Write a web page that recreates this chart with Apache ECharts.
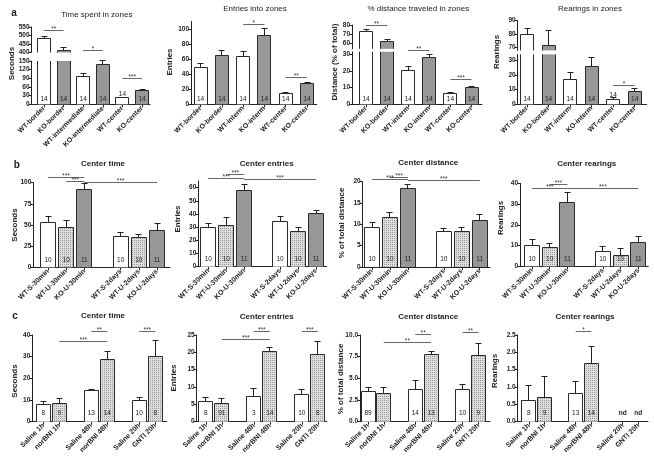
<!DOCTYPE html>
<html><head><meta charset="utf-8">
<script src="https://cdn.jsdelivr.net/npm/echarts@6/dist/echarts.min.js"></script>
<style>html,body{margin:0;padding:0;background:#fff;}#c{width:654px;height:457px;}</style>
</head><body><div id="c"></div>
<script>
// ================= DATA =================
// Row a : zones
const zoneCatsTime = ['WT-border','KO-border','WT-intermediate','KO-intermediate','WT-center','KO-center'];
const zoneCats = ['WT-border','KO-border','WT-interm','KO-interm','WT-center','KO-center'];
const zoneN = ['14','14','14','14','14','14'];

const zoneTimeMean = [480, 410, 95, 138, 22, 47];
const zoneTimeSem  = [15, 20, 13, 14, 2.5, 5];
const zoneTimeSig  = [[0,1,532,'**'],[2,3,185,'*'],[4,5,88,'***']];

const zoneEntriesMean = [49, 65, 64, 91, 14.5, 27];
const zoneEntriesSem  = [5, 7, 6, 10, 1.5, 2.5];
const zoneEntriesSig  = [[2,3,106.6,'*'],[4,5,35.9,'**']];

const zoneDistMean = [73, 62, 20.5, 28, 6.5, 10];
const zoneDistSem  = [2, 2, 2, 2, 0.8, 0.4];
const zoneDistSig  = [[0,1,80,'**'],[2,3,32.2,'**'],[4,5,14.6,'***']];

const zoneRearMean = [79.5, 72, 17, 25.5, 3.5, 8.5];
const zoneRearSem  = [5, 11, 4.5, 6.5, 1, 2];
const zoneRearSig  = [[4,5,12.5,'*']];

// Row b : stress
const stressCats = ['WT-S-30min','WT-U-30min','KO-U-30min','WT-S-2days','WT-U-2days','KO-U-2days'];
const stressN = ['10','10','11','10','10','11'];

const sTimeMean = [53.5, 47.5, 91.5, 36, 35.5, 43];
const sTimeSem  = [7, 7.5, 7, 5.5, 3, 8.5];
const sTimeSig  = [[0,2,105.9,'***'],[1,2,101.2,'***'],[2,5,100.5,'***']];

const sEntriesMean = [30, 31.5, 57.5, 34, 27, 40];
const sEntriesSem  = [3, 5.5, 5, 4, 3, 3];
const sEntriesSig  = [[0,2,66.7,'***'],[1,2,69.8,'***'],[2,5,65.9,'***']];

const sDistMean = [9.2, 11.5, 18.3, 8.3, 8.3, 10.8];
const sDistSem  = [1.2, 1.3, 1.1, 0.7, 1.0, 1.4];
const sDistSig  = [[0,2,20.4,'***'],[1,2,21.1,'***'],[2,5,20.3,'***']];

const sRearMean = [10, 9.2, 30.8, 7, 5.3, 11.5];
const sRearSem  = [3, 1.8, 5, 2.5, 3.2, 2.8];
const sRearSig  = [[0,2,37.3,'***'],[1,2,39.3,'***'],[2,5,37.3,'***']];

// Row c : drugs
const drugCats = ['Saline 1h','norBNI 1h','Saline 48h','norBNI 48h','Saline 20h','GNTI 20h'];

const dTimeMean = [7.8, 8.2, 14.3, 28.5, 9.7, 30];
const dTimeSem  = [1.7, 2.3, 0.7, 4, 1.6, 7.3];
const dTimeN    = ['8','9','13','14','10','8'];
const dTimeSig  = [[2,3,41.5,'**'],[1,3,36.9,'***'],[4,5,41.5,'***']];

const dEntriesMean = [5.7, 5.3, 7.4, 20.2, 7.7, 19.3];
const dEntriesSem  = [1.4, 1.5, 2.3, 1.3, 1.5, 3.7];
const dEntriesN    = ['8','91','3','14','10','8'];
const dEntriesSig  = [[2,3,25.9,'***'],[1,3,23.7,'***'],[4,5,25.9,'***']];

const dDistMean = [3.5, 3.3, 3.75, 7.7, 3.75, 7.6];
const dDistSem  = [0.5, 0.6, 1.05, 0.4, 0.55, 1.45];
const dDistN    = ['89','','14','13','10','9'];
const dDistSig  = [[2,3,10.1,'**'],[1,3,9.1,'**'],[4,5,10.3,'**']];

const dRearMean = [0.62, 0.7, 0.82, 1.67, null, null];
const dRearSem  = [0.43, 0.6, 0.33, 0.5, null, null];
const dRearN    = ['8','9','13','14','nd','nd'];
const dRearSig  = [[2,3,2.59,'*']];

// ================= STYLE / LAYOUT =================
const FONT = '"Liberation Sans", Arial, Helvetica, sans-serif';
const INK = '#222';
const EDGE = '#2a2a2a';
function styleFor(kind) {
  if (kind === 'gray') return {color:'#979797', borderWidth:0};
  if (kind === 'stipple') return {color:'#dedede', borderWidth:0, decal:{symbol:'rect', symbolSize:1, dashArrayX:[1,1], dashArrayY:[1,1], color:'#9a9a9a'}};
  return {color:'#ffffff', borderWidth:0};
}
const zoneFill = c => c.startsWith('KO') ? 'gray' : 'white';
const stressFill = c => c.startsWith('KO') ? 'gray' : (c.startsWith('WT-U') ? 'stipple' : 'white');
const drugFill = c => c.startsWith('Saline') ? 'white' : 'stipple';
const fmt1 = v => v.toFixed(1);

const panels = [
  {cats:zoneCatsTime, mean:zoneTimeMean, sem:zoneTimeSem, n:zoneN, sig:zoneTimeSig, fill:zoneFill,
   axisX:31.5, axisEnd:150, c0:44, c1:142, group:0, barW:13, nOff:5.5,
   segs:[{min:400,max:550,interval:50,top:27,bottom:52.5},{min:0,max:150,interval:30,top:61,bottom:104.3}]},
  {cats:zoneCats, mean:zoneEntriesMean, sem:zoneEntriesSem, n:zoneN, sig:zoneEntriesSig, fill:zoneFill,
   axisX:191, axisEnd:316.7, c0:200.5, c1:307, group:0, barW:13, nOff:5.5,
   segs:[{min:0,max:110,ticks:[0,20,40,60,80,100],top:21.5,bottom:104.3}]},
  {cats:zoneCats, mean:zoneDistMean, sem:zoneDistSem, n:zoneN, sig:zoneDistSig, fill:zoneFill,
   axisX:352, axisEnd:482, c0:366, c1:471.5, group:0, barW:13, nOff:5.5,
   segs:[{min:54,max:80,ticks:[60,70,80],top:25,bottom:48.8},{min:0,max:31.5,ticks:[0,10,20,30],top:51.8,bottom:104.3}]},
  {cats:zoneCats, mean:zoneRearMean, sem:zoneRearSem, n:zoneN, sig:zoneRearSig, fill:zoneFill,
   axisX:517.7, axisEnd:646.7, c0:527, c1:634.7, group:0, barW:13, nOff:5.5,
   segs:[{min:68,max:90,ticks:[70,80,90],top:20.7,bottom:50.4},{min:0,max:34,ticks:[0,10,20,30],top:54.4,bottom:104.3}]},

  {cats:stressCats, mean:sTimeMean, sem:sTimeSem, n:stressN, sig:sTimeSig, fill:stressFill,
   axisX:33.3, axisEnd:170, c0:48, c1:157, group:3, barW:15, nOff:7.5,
   segs:[{min:0,max:100,interval:25,top:182.7,bottom:267.3}]},
  {cats:stressCats, mean:sEntriesMean, sem:sEntriesSem, n:stressN, sig:sEntriesSig, fill:stressFill,
   axisX:198.3, axisEnd:326.7, c0:208.3, c1:316, group:3, barW:15, nOff:7.5,
   segs:[{min:0,max:65,ticks:[0,10,20,30,40,50,60],top:181,bottom:266.7}]},
  {cats:stressCats, mean:sDistMean, sem:sDistSem, n:stressN, sig:sDistSig, fill:stressFill,
   axisX:362.7, axisEnd:490, c0:372, c1:479.7, group:3, barW:15, nOff:7.5,
   segs:[{min:0,max:20,interval:5,top:181.7,bottom:267}]},
  {cats:stressCats, mean:sRearMean, sem:sRearSem, n:stressN, sig:sRearSig, fill:stressFill,
   axisX:520, axisEnd:648.3, c0:532, c1:638.3, group:3, barW:15, nOff:7.5,
   segs:[{min:0,max:40,interval:10,top:183.3,bottom:266.3}]},

  {cats:drugCats, mean:dTimeMean, sem:dTimeSem, n:dTimeN, sig:dTimeSig, fill:drugFill,
   axisX:32.3, axisEnd:166.7, c0:43.3, c1:155.2, group:2, barW:14, nOff:8,
   segs:[{min:0,max:40,interval:10,top:335,bottom:421.7}]},
  {cats:drugCats, mean:dEntriesMean, sem:dEntriesSem, n:dEntriesN, sig:dEntriesSig, fill:drugFill,
   axisX:196.7, axisEnd:326.7, c0:205.8, c1:317.8, group:2, barW:14, nOff:8,
   segs:[{min:0,max:25,interval:5,top:335,bottom:421.7}]},
  {cats:drugCats, mean:dDistMean, sem:dDistSem, n:dDistN, sig:dDistSig, fill:drugFill, fmt:fmt1,
   axisX:360, axisEnd:490, c0:368, c1:478.3, group:2, barW:14, nOff:8,
   segs:[{min:0,max:10,interval:2.5,top:335,bottom:421.7}]},
  {cats:drugCats, mean:dRearMean, sem:dRearSem, n:dRearN, sig:dRearSig, fill:drugFill, fmt:fmt1,
   axisX:517.7, axisEnd:648, c0:528.8, c1:638.3, group:2, barW:14, nOff:8,
   segs:[{min:0,max:2.5,interval:0.5,top:335,bottom:421.7}]}
];

const texts = [
  // [text, x, y, bold, size, rotated]
  ['a', 14, 13.5, true, 10, false], ['b', 16.7, 165.7, true, 10, false], ['c', 15, 316.7, true, 10, false],
  ['Time spent in zones', 96.8, 15, false, 8, false],
  ['Entries into zones', 255, 8.3, false, 8, false],
  ['% distance traveled in zones', 418.3, 8.3, false, 8, false],
  ['Rearings in zones', 590, 8.3, false, 8, false],
  ['Center time', 103, 163.3, true, 8, false], ['Center entries', 266.7, 163.3, true, 8, false],
  ['Center distance', 428.3, 162.7, true, 8, false], ['Center rearings', 586.7, 164, true, 8, false],
  ['Center time', 103, 316, true, 8, false], ['Center entries', 266.7, 316.7, true, 8, false],
  ['Center distance', 428.3, 316.7, true, 8, false], ['Center rearings', 585, 316.7, true, 8, false],
  ['Seconds', 11.7, 63.5, true, 8, true], ['Entries', 170, 62, true, 8, true],
  ['Distance (% of total)', 335, 62, true, 8, true], ['Rearings', 497, 52, true, 8, true],
  ['Seconds', 15, 225, true, 8, true], ['Entries', 177.3, 219, true, 8, true],
  ['% of total distance', 341.7, 223, true, 8, true], ['Rearings', 500.7, 218, true, 8, true],
  ['Seconds', 15, 381, true, 8, true], ['Entries', 173.3, 378, true, 8, true],
  ['% of total distance', 341, 379, true, 8, true], ['Rearings', 495, 371, true, 8, true]
];

// ================= BUILD =================
const grids = [], xAxis = [], yAxis = [], series = [];
const isGap = v => String(v).startsWith('__gap');
const crisp = x => Math.round(x - 0.5) + 0.5;

panels.forEach(p => {
  const slots = [], slotOf = [];
  p.cats.forEach((c, i) => {
    if (p.group && i > 0 && i % p.group === 0) slots.push('__gap' + i);
    slotOf.push(slots.length); slots.push(c);
  });
  const band = (p.c1 - p.c0) / (slots.length - 1);
  const left = p.c0 - band / 2, width = band * slots.length;
  const segOfValue = v => { for (let k = 0; k < p.segs.length; k++) if (v >= p.segs[k].min) return k; return p.segs.length - 1; };
  const gridIdx = [];

  p.segs.forEach((s, k) => {
    const isBottom = k === p.segs.length - 1;
    const gi = grids.length; gridIdx.push(gi);
    grids.push({left: left, top: s.top, width: width, height: s.bottom - s.top, containLabel: false, outerBoundsMode: 'none'});
    xAxis.push({gridIndex: gi, type: 'category', data: slots, boundaryGap: true,
      axisLine: {show: false, onZero: false},
      axisTick: {show: isBottom, alignWithLabel: true, length: 3, interval: (i, v) => !isGap(v), lineStyle: {color: INK, width: 1}},
      axisLabel: {show: isBottom, rotate: 45, interval: (i, v) => !isGap(v), fontSize: 7, fontWeight: 'bold', color: INK, margin: 3, fontFamily: FONT,
        formatter: v => isGap(v) ? '' : v},
      splitLine: {show: false}});
    const ya = {gridIndex: gi, type: 'value', min: s.min, max: s.max, offset: left - p.axisX,
      axisLine: {show: true, lineStyle: {color: INK, width: 1}},
      axisTick: {show: true, length: 3, lineStyle: {color: INK, width: 1}},
      axisLabel: {fontSize: 6.5, fontWeight: 'bold', color: INK, margin: 2, fontFamily: FONT},
      splitLine: {show: false}};
    if (p.fmt) ya.axisLabel.formatter = p.fmt;
    if (s.ticks) { ya.axisTick.customValues = s.ticks; ya.axisLabel.customValues = s.ticks; }
    else ya.interval = s.interval;
    yAxis.push(ya);

    // bars (fill)
    const barData = slots.map(() => '-');
    const outline = [];
    p.cats.forEach((c, i) => {
      const v = p.mean[i];
      if (v == null) return;
      if (!isBottom && v < s.min) return;
      barData[slotOf[i]] = {value: v, itemStyle: styleFor(p.fill(c))};
      outline.push([slotOf[i], v]);
    });
    series.push({type: 'bar', xAxisIndex: gi, yAxisIndex: gi, data: barData, barWidth: p.barW, clip: true, silent: true, z: 2});

    // bar outlines (open at an axis break)
    series.push({type: 'custom', xAxisIndex: gi, yAxisIndex: gi, data: outline, clip: false, silent: true, z: 3,
      renderItem: (params, api) => {
        const x = api.value(0), v = api.value(1);
        const t = api.coord([x, Math.min(v, s.max)]), b = api.coord([x, s.min]);
        const hw = p.barW / 2;
        const xl = crisp(t[0] - hw), xr = crisp(t[0] + hw);
        const yt = crisp(t[1]);
        const pts = v <= s.max ? [[xl, b[1]], [xl, yt], [xr, yt], [xr, b[1]]] : null;
        if (pts) return {type: 'polyline', shape: {points: pts}, style: {stroke: EDGE, lineWidth: 1, fill: null}};
        return {type: 'group', children: [
          {type: 'line', shape: {x1: xl, y1: b[1], x2: xl, y2: t[1]}, style: {stroke: EDGE, lineWidth: 1}},
          {type: 'line', shape: {x1: xr, y1: b[1], x2: xr, y2: t[1]}, style: {stroke: EDGE, lineWidth: 1}}
        ]};
      }});

    // error bars (upper caps only)
    const errData = [];
    p.cats.forEach((c, i) => {
      const v = p.mean[i];
      if (v == null || p.sem[i] == null) return;
      if (segOfValue(v) === k) errData.push([slotOf[i], v, p.sem[i]]);
    });
    series.push({type: 'custom', xAxisIndex: gi, yAxisIndex: gi, data: errData, clip: false, silent: true, z: 4,
      renderItem: (params, api) => {
        const x = api.value(0), v = api.value(1), e = api.value(2);
        const a = api.coord([x, v]), b = api.coord([x, v + e]);
        const xc = crisp(a[0]), yb = crisp(b[1]);
        return {type: 'group', children: [
          {type: 'line', shape: {x1: xc, y1: a[1], x2: xc, y2: yb}, style: {stroke: INK, lineWidth: 1}},
          {type: 'line', shape: {x1: xc - 3, y1: yb, x2: xc + 3, y2: yb}, style: {stroke: INK, lineWidth: 1}}
        ]};
      }});

    // n labels
    if (isBottom) {
      const nData = [];
      p.cats.forEach((c, i) => { if (p.n[i]) nData.push([slotOf[i], p.mean[i] == null ? 0 : p.mean[i], i]); });
      series.push({type: 'custom', xAxisIndex: gi, yAxisIndex: gi, data: nData, clip: false, silent: true, z: 5,
        renderItem: (params, api) => {
          const x = api.value(0), v = api.value(1), idx = api.value(2);
          const txt = p.n[idx];
          const base = api.coord([x, s.min]);
          const top = api.coord([x, Math.min(v, s.max)]);
          let y = base[1] - p.nOff;
          if (txt !== 'nd' && base[1] - top[1] < 8) y = top[1] - 4;
          return {type: 'text', x: base[0], y: y,
            style: {text: txt, textAlign: 'center', textVerticalAlign: 'middle',
              font: (txt === 'nd' ? 'bold ' : '') + '6.5px ' + FONT, fill: INK}};
        }});
    }
  });

  // significance brackets
  const sigBySeg = p.segs.map(() => []);
  p.sig.forEach((sg, j) => { sigBySeg[segOfValue(sg[2])].push([slotOf[sg[0]], slotOf[sg[1]], sg[2], j]); });
  sigBySeg.forEach((arr, k) => {
    if (!arr.length) return;
    const gi = gridIdx[k];
    series.push({type: 'custom', xAxisIndex: gi, yAxisIndex: gi, data: arr, clip: false, silent: true, z: 6,
      renderItem: (params, api) => {
        const a = api.coord([api.value(0), api.value(2)]), b = api.coord([api.value(1), api.value(2)]);
        const t = p.sig[api.value(3)][3];
        const y = crisp(a[1]);
        return {type: 'group', children: [
          {type: 'line', shape: {x1: a[0], y1: y, x2: b[0], y2: y}, style: {stroke: '#555', lineWidth: 0.9}},
          {type: 'text', x: (a[0] + b[0]) / 2, y: y - 4.5,
            style: {text: t, textAlign: 'center', textVerticalAlign: 'top', font: '6.5px ' + FONT, fill: '#333'}}
        ]};
      }});
  });

  // frame grid: x axis baseline from the y axis to its end
  const bs = p.segs[p.segs.length - 1];
  const fg = grids.length;
  grids.push({left: p.axisX, top: bs.top, width: p.axisEnd - p.axisX, height: bs.bottom - bs.top, containLabel: false, outerBoundsMode: 'none'});
  xAxis.push({gridIndex: fg, type: 'value', min: 0, max: 1,
    axisLine: {show: true, onZero: false, lineStyle: {color: INK, width: 1}},
    axisTick: {show: false}, axisLabel: {show: false}, splitLine: {show: false}});
  yAxis.push({gridIndex: fg, type: 'value', min: 0, max: 1, show: false});
});

const graphicEls = texts.map(t => ({
  type: 'text', x: t[1], y: t[2], rotation: t[5] ? Math.PI / 2 : 0, silent: true,
  style: {text: t[0], textAlign: 'center', textVerticalAlign: 'middle',
    font: (t[3] ? 'bold ' : '') + t[4] + 'px ' + FONT, fill: INK}
}));

const chart = echarts.init(document.getElementById('c'), null, {renderer: 'canvas'});
chart.setOption({
  animation: false,
  backgroundColor: '#ffffff',
  grid: grids, xAxis: xAxis, yAxis: yAxis, series: series,
  graphic: {elements: graphicEls}
});
</script></body></html>
